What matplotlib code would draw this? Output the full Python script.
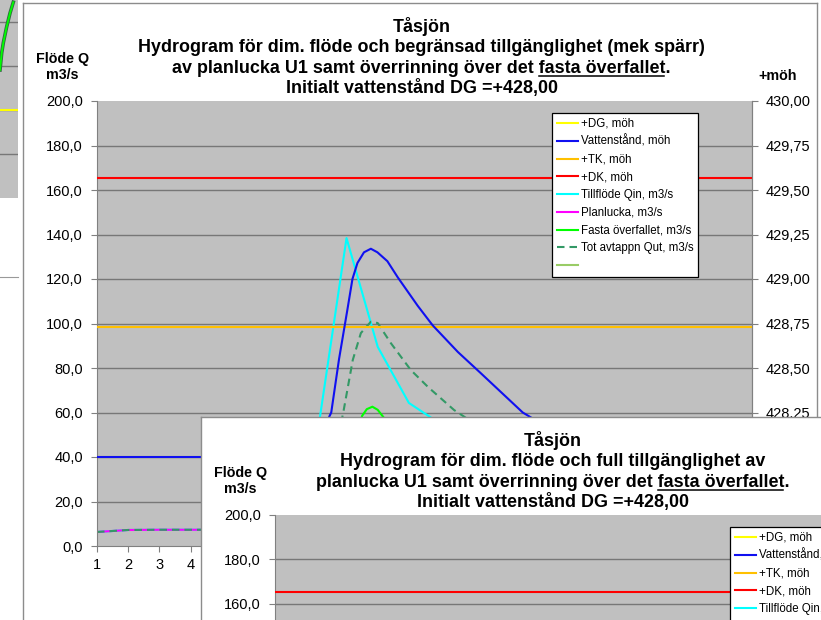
import numpy as np
import matplotlib
matplotlib.use('Agg')
import matplotlib.pyplot as plt
from matplotlib.lines import Line2D
from matplotlib.ticker import FuncFormatter

W, H = 821, 620
plt.rcParams['font.family'] = ['Liberation Sans', 'DejaVu Sans']

# ---- data ----
cat = list(range(1, 23))
dg_level = 428.00
tk_level = 428.73
dk_level = 429.57

level_x = [1, 2, 3, 4, 5, 6, 7, 7.5, 8.0, 8.51, 8.76, 9.03, 9.19, 9.35, 9.56, 9.78, 9.99,
           10.31, 10.64, 10.96, 11.28, 11.76, 12.57, 13.31, 14.65, 15.5, 16.5, 18, 20, 22]
level_m = [428.00, 428.00, 428.00, 428.00, 428.00, 428.00, 428.00, 428.01, 428.06, 428.25,
           428.55, 428.83, 429.00, 429.09, 429.15, 429.17, 429.15, 429.10, 429.01, 428.93,
           428.85, 428.74, 428.59, 428.47, 428.25, 428.16, 428.09, 428.04, 428.01, 428.00]

inflow_q = [6.3, 7.2, 7.3, 7.3, 7.3, 7.3, 7.3, 44, 138.4, 89.5, 64.3, 55, 45, 36, 28, 22,
            17, 13, 11, 9, 8, 7.3]
gate_q = [6.3, 7.2, 7.3, 7.3, 7.3, 7.3, 7.3, 8, 22, 38, 36, 33, 30, 27, 24, 21, 18, 15,
          12, 10, 8.5, 7.5]

spill_x = [8.6, 9.0, 9.3, 9.5, 9.65, 9.83, 10.0, 10.15, 10.4, 11.0, 12.0, 13.5, 15.0]
spill_q = [0, 25, 48, 58.5, 61.5, 62.6, 61.2, 58.5, 54, 43, 30, 16, 4]

out_x = [1, 2, 3, 4, 5, 6, 7, 8, 8.5, 8.91, 9.2, 9.46, 9.78, 10.0, 10.42, 11.06, 11.61,
         12.45, 13, 14, 15, 16, 17, 18, 19, 20, 21, 22]
out_q = [6.3, 7.2, 7.3, 7.3, 7.3, 7.3, 7.3, 9, 32, 61.1, 83.6, 95.7, 100.8, 100.2, 91.2,
         79.1, 71.5, 61.1, 56, 48, 40, 33, 27, 22, 17, 14, 11, 9]

# chart peeking out at the left edge
frag_x = [0, 1.7, 3.3, 6.7, 10, 13.3]
frag_q = [58.2, 65.9, 70.5, 77.9, 84, 89]

labels = ['+DG, möh', 'Vattenstånd, möh', '+TK, möh', '+DK, möh', 'Tillflöde Qin, m3/s',
          'Planlucka, m3/s', 'Fasta överfallet, m3/s', 'Tot avtappn Qut, m3/s', ' ']
colors = ['#FFFF00', '#1010F0', '#FFC000', '#FF0000', '#00FFFF', '#FF00FF', '#00FF00',
          '#339966', '#99CC66']
dashed = [False] * 7 + [True, False]

q_ticks = np.arange(0, 201, 20)
m_ticks = np.arange(427.5, 430.01, 0.25)

GRID = '#777777'
AXC = '#808080'
LW = 1.5
DASH = (3.6, 2.4)
TFS = 12.9


def px_rect(x0, y0, x1, y1):
    return [x0 / W, 1 - y1 / H, (x1 - x0) / W, (y1 - y0) / H]


fig = plt.figure(figsize=(W / 100, H / 100), dpi=100)
fig.patch.set_facecolor('white')

# ---- fragment of the chart underneath ----
fa = fig.add_axes(px_rect(-30, 0, 18, 198))
fa.set_facecolor('#C0C0C0')
fa.set_xlim(-30, 18)
fa.set_ylim(0, 90)
for v in [20, 40, 60, 80]:
    fa.axhline(v, color=GRID, lw=1.0)
fa.axhline(40, color=colors[0], lw=LW)
fa.plot(frag_x, frag_q, color='#2f6f3f', lw=2.6)
fa.plot(frag_x, frag_q, color=colors[6], lw=1.3)
fa.set_xticks([])
fa.set_yticks([])
for s in fa.spines.values():
    s.set_visible(False)

fb = fig.add_axes(px_rect(-30, 277, 18, 700))
fb.set_xticks([])
fb.set_yticks([])
for k, s in fb.spines.items():
    s.set_visible(k == 'top')
    s.set_color('#999999')


def chart(dx, dy, title_xc, title_lines, data=True):
    frame = fig.add_axes(px_rect(23 + dx, 3 + dy, 817 + dx, 700 + dy))
    frame.set_xticks([])
    frame.set_yticks([])
    for k, s in frame.spines.items():
        s.set_color('#8c8c8c')
        s.set_linewidth(1.0)

    ax = fig.add_axes(px_rect(97 + dx, 101 + dy, 752 + dx, 546 + dy))
    ax.set_facecolor('#C0C0C0')
    ax.set_xlim(1, 22)
    ax.set_ylim(0, 200)
    for v in q_ticks[1:-1]:
        ax.axhline(v, color=GRID, lw=1.0, zorder=0.5)
    ax.set_yticks(q_ticks)
    ax.set_xticks(cat)
    ax.yaxis.set_major_formatter(FuncFormatter(lambda v, p: f'{v:.1f}'.replace('.', ',')))
    ax.tick_params(axis='y', length=4, width=0.8, color=AXC, pad=6, labelsize=10.5)
    ax.tick_params(axis='x', length=4, width=0.8, color=AXC, pad=4.7, labelsize=10.5)
    ax.spines['top'].set_visible(False)
    for k in ['left', 'bottom', 'right']:
        ax.spines[k].set_color(AXC)

    ax2 = ax.twinx()
    ax2.set_ylim(427.5, 430)
    ax2.set_yticks(m_ticks)
    ax2.yaxis.set_major_formatter(FuncFormatter(lambda v, p: f'{v:.2f}'.replace('.', ',')))
    ax2.tick_params(axis='y', length=4, width=0.8, color=AXC, pad=6, labelsize=10.5)
    for k, s in ax2.spines.items():
        s.set_visible(k == 'right')
        s.set_color(AXC)

    ax2.plot(cat, [dg_level] * len(cat), color=colors[0], lw=LW)
    ax2.plot(cat, [tk_level] * len(cat), color=colors[2], lw=LW)
    ax2.plot(cat, [dk_level] * len(cat), color=colors[3], lw=LW)
    if data:
        ax2.plot(level_x, level_m, color=colors[1], lw=LW)
        ax.plot(cat, inflow_q, color=colors[4], lw=LW)
        ax.plot(cat, gate_q, color=colors[5], lw=LW)
        ax.plot(spill_x, spill_q, color=colors[6], lw=LW)
        ax.plot(out_x, out_q, color=colors[7], lw=LW, dashes=DASH)

    handles = []
    for c, d in zip(colors, dashed):
        h = Line2D([], [], color=c, lw=LW)
        if d:
            h.set_dashes(DASH)
        handles.append(h)
    leg = ax2.legend(handles, labels, loc='upper left',
                     bbox_to_anchor=((552 + dx) / W, 1 - (113 + dy) / H),
                     bbox_transform=fig.transFigure, borderaxespad=0,
                     fontsize=8.3, frameon=True, fancybox=False, framealpha=1,
                     edgecolor='black', handlelength=1.85, handletextpad=0.25,
                     labelspacing=0.5, borderpad=0.4)
    leg.get_frame().set_linewidth(0.9)

    # titles, with the underlined words
    r = fig.canvas.get_renderer()
    base = [32, 52.5, 73, 93.5]
    for i, line in enumerate(title_lines):
        t = fig.text(title_xc / W, 1 - (base[i] + dy) / H, line, ha='center',
                     va='baseline', fontsize=TFS, fontweight='bold')
        if 'fasta överfallet.' in line:
            bb = t.get_window_extent(r)
            m1 = fig.text(0, 0, 'fasta överfallet.', fontsize=TFS, fontweight='bold')
            m2 = fig.text(0, 0, '.', fontsize=TFS, fontweight='bold')
            w1 = m1.get_window_extent(r).width
            w2 = m2.get_window_extent(r).width
            m1.remove()
            m2.remove()
            yu = 1 - (base[i] + dy + 2.5) / H
            fig.add_artist(Line2D([(bb.x1 - w1) / W, (bb.x1 - w2 - 1.5) / W], [yu, yu],
                                  transform=fig.transFigure, color='black', lw=1.1))

    fig.text((62.5 + dx) / W, 1 - (63 + dy) / H, 'Flöde Q', ha='center', va='baseline',
             fontsize=10.3, fontweight='bold')
    fig.text((62.5 + dx) / W, 1 - (79 + dy) / H, 'm3/s', ha='center', va='baseline',
             fontsize=10.3, fontweight='bold')
    fig.text((778 + dx) / W, 1 - (80 + dy) / H, '+möh', ha='center', va='baseline',
             fontsize=10.3, fontweight='bold')


chart(0, 0, 421.5, ['Tåsjön',
                    'Hydrogram för dim. flöde och begränsad tillgänglighet (mek spärr)',
                    'av planlucka U1 samt överrinning över det fasta överfallet.',
                    'Initialt vattenstånd DG =+428,00'])
chart(178, 414, 553, ['Tåsjön',
                      'Hydrogram för dim. flöde och full tillgänglighet av',
                      'planlucka U1 samt överrinning över det fasta överfallet.',
                      'Initialt vattenstånd DG =+428,00'], data=False)

fig.savefig('out.png', dpi=100)
